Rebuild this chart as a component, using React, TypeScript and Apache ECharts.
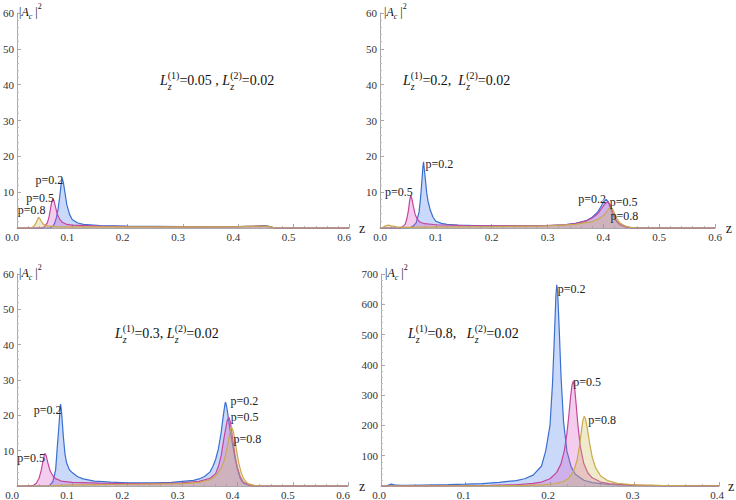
import { useEffect, useRef } from "react";
import * as echarts from "echarts";

type Pt = [number, number];
const SERIF = "Liberation Serif, Times New Roman, serif";
const BLUE = "#3a6fd0";
const MAG = "#c4479c";
const YEL = "#c9a94e";
const BLUE_F = "#4f82ee";
const MAG_F = "#d655c8";
const YEL_F = "#cdb85a";

// ---------- Panel 1 : Lz(1)=0.05, Lz(2)=0.02 ----------
const blue05: Pt[] = [[0,0],[0.06,0],[0.065,0.5],[0.068,1.3],[0.071,2.8],[0.074,5],[0.077,8.5],[0.08,12.5],[0.082,13.7],[0.084,12.5],[0.087,9.5],[0.09,6.5],[0.095,3.8],[0.1,2.3],[0.11,1.4],[0.12,1.0],[0.15,0.7],[0.2,0.5],[0.3,0.4],[0.4,0.4],[0.43,0.5],[0.445,0.7],[0.452,0.6],[0.458,0.3],[0.465,0.05],[0.47,0],[0.6,0]];
const mag05: Pt[] = [[0,0],[0.045,0],[0.05,0.4],[0.055,1.5],[0.058,3.2],[0.061,5.8],[0.063,7.4],[0.065,8.1],[0.067,7.5],[0.07,5.6],[0.073,3.8],[0.077,2.5],[0.082,1.6],[0.09,1.0],[0.1,0.8],[0.15,0.5],[0.2,0.4],[0.3,0.3],[0.4,0.4],[0.44,0.5],[0.455,0.4],[0.465,0.05],[0.47,0],[0.6,0]];
const yel05: Pt[] = [[0,0],[0.025,0],[0.03,0.4],[0.034,1.3],[0.037,2.4],[0.039,3.0],[0.041,2.7],[0.044,1.8],[0.048,1.0],[0.055,0.6],[0.07,0.4],[0.1,0.3],[0.2,0.3],[0.3,0.3],[0.4,0.4],[0.44,0.55],[0.455,0.45],[0.465,0.05],[0.47,0],[0.6,0]];

// ---------- Panel 2 : Lz(1)=0.2 ----------
const blue20: Pt[] = [[0,0],[0.05,0],[0.055,0.2],[0.06,0.6],[0.065,1.5],[0.07,4.5],[0.073,9],[0.075,13],[0.077,17.3],[0.078,18.5],[0.08,15.5],[0.0835,10],[0.086,7.5],[0.09,5],[0.095,3],[0.1,1.9],[0.11,1.3],[0.12,1.0],[0.14,0.8],[0.17,0.7],[0.2,0.6],[0.25,0.6],[0.3,0.7],[0.33,0.9],[0.35,1.3],[0.37,2.1],[0.38,3],[0.39,4.5],[0.395,5.8],[0.4,7.2],[0.405,8.0],[0.409,7.3],[0.413,5.5],[0.418,3.5],[0.423,2],[0.43,0.9],[0.44,0.3],[0.45,0.05],[0.46,0],[0.6,0]];
const mag20: Pt[] = [[0,0],[0.035,0],[0.04,0.3],[0.045,1],[0.048,2.5],[0.051,5],[0.053,7.5],[0.055,9.2],[0.057,8.2],[0.06,5.8],[0.063,3.8],[0.067,2.4],[0.072,1.6],[0.08,1.2],[0.1,0.9],[0.15,0.7],[0.2,0.6],[0.25,0.6],[0.3,0.7],[0.33,0.9],[0.35,1.2],[0.37,2],[0.38,2.8],[0.39,4],[0.397,5.5],[0.403,6.8],[0.408,7.3],[0.412,6.5],[0.416,4.8],[0.42,3],[0.425,1.7],[0.43,0.9],[0.44,0.3],[0.45,0.05],[0.46,0],[0.6,0]];
const yel20: Pt[] = [[0,0],[0.005,0.2],[0.01,0.6],[0.015,0.8],[0.02,0.6],[0.03,0.3],[0.05,0.2],[0.1,0.3],[0.2,0.4],[0.3,0.6],[0.35,1],[0.38,1.8],[0.39,2.4],[0.4,3.4],[0.406,4.5],[0.41,5.4],[0.413,5.8],[0.417,5.2],[0.421,3.8],[0.425,2.5],[0.43,1.4],[0.44,0.5],[0.45,0.15],[0.46,0],[0.6,0]];

// ---------- Panel 3 : Lz(1)=0.3 ----------
const blue30: Pt[] = [[0,0],[0.055,0],[0.06,0.3],[0.065,1.2],[0.07,4.5],[0.073,11],[0.076,17],[0.078,21.5],[0.079,23.2],[0.081,20.5],[0.084,14],[0.087,9],[0.09,6.5],[0.095,4.6],[0.1,3.8],[0.11,2.6],[0.12,2],[0.14,1.4],[0.17,1.1],[0.2,0.9],[0.25,0.9],[0.28,1.0],[0.3,1.3],[0.32,1.6],[0.33,2.0],[0.34,2.7],[0.35,4],[0.355,5.5],[0.36,7.5],[0.365,10.5],[0.37,15],[0.374,20],[0.377,23.2],[0.378,23.7],[0.38,22.5],[0.383,19.5],[0.386,16],[0.39,12.5],[0.395,8],[0.4,4.5],[0.405,2],[0.41,0.8],[0.42,0.2],[0.43,0],[0.6,0]];
const mag30: Pt[] = [[0,0],[0.02,0],[0.03,0.2],[0.035,0.8],[0.04,2.2],[0.044,4.5],[0.047,7],[0.05,9],[0.051,9.2],[0.053,8.5],[0.056,6.5],[0.06,4.3],[0.065,2.9],[0.07,2.1],[0.08,1.4],[0.1,1],[0.15,0.8],[0.2,0.7],[0.25,0.7],[0.3,0.9],[0.33,1.3],[0.35,2.2],[0.36,3.5],[0.365,5.5],[0.37,8.5],[0.374,12.5],[0.378,16],[0.381,18.5],[0.384,19.5],[0.387,18],[0.39,14.5],[0.393,11],[0.397,7],[0.4,5],[0.405,2.5],[0.41,1.2],[0.42,0.3],[0.43,0.05],[0.44,0],[0.6,0]];
const yel30: Pt[] = [[0,0],[0.05,0],[0.1,0.3],[0.2,0.5],[0.3,0.7],[0.33,1],[0.35,1.8],[0.36,2.8],[0.37,5],[0.375,7],[0.38,10],[0.384,13.5],[0.387,16],[0.389,16.7],[0.392,15.5],[0.395,13],[0.398,10],[0.402,6.5],[0.406,4],[0.41,2.3],[0.415,1.2],[0.42,0.6],[0.43,0.2],[0.44,0.05],[0.45,0],[0.6,0]];

// ---------- Panel 4 : Lz(1)=0.8 ----------
const blue80: Pt[] = [[0,0],[0.006,0],[0.009,3],[0.012,6],[0.016,4],[0.02,2.5],[0.03,2],[0.05,3],[0.08,4.5],[0.1,6],[0.12,8],[0.14,12],[0.16,18],[0.17,24],[0.18,36],[0.19,66],[0.195,117],[0.2,200],[0.203,340],[0.205,480],[0.207,630],[0.208,664],[0.209,643],[0.211,512],[0.213,364],[0.216,213],[0.22,115],[0.225,63],[0.23,39],[0.24,19],[0.25,11],[0.27,5],[0.3,2],[0.35,1],[0.4,0.5]];
const mag80: Pt[] = [[0,0],[0.05,0.5],[0.1,1.2],[0.13,2],[0.16,4.2],[0.18,8.4],[0.19,13],[0.2,24],[0.208,45],[0.213,73],[0.217,117],[0.22,173],[0.222,225],[0.224,284],[0.226,333],[0.2275,346],[0.229,329],[0.231,268],[0.233,202],[0.236,128],[0.24,74],[0.245,42],[0.25,27],[0.26,13],[0.27,8],[0.29,3.7],[0.32,1.5],[0.36,0.7],[0.4,0.3]];
const yel80: Pt[] = [[0,0],[0.1,0.5],[0.14,1],[0.17,2],[0.19,3.8],[0.205,7.5],[0.215,14],[0.222,25],[0.228,49],[0.232,85],[0.235,134],[0.237,178],[0.239,218],[0.2405,230],[0.242,222],[0.244,193],[0.247,139],[0.25,95],[0.254,60],[0.26,33],[0.268,18],[0.28,9],[0.3,4],[0.33,1.8],[0.37,0.9],[0.4,0.5]];

const pLabels = ["p=0.2", "p=0.5", "p=0.8"];
const lz1Values = ["0.05 , ", "0.2,  ", "0.3, ", "0.8,   "];
const lz2Value = "0.02";

type Lab = { z: number; text: string; pos: "left" | "right"; off: [number, number] };
type Panel = {
  grid: { left: number; top: number; width: number; height: number };
  xMax: number; yMax: number; yInt: number;
  labelShift: number; nameGap: number;
  data: Pt[][];
  labels: Lab[][];
  anno: [number, number];
};

const panels: Panel[] = [
  {
    grid: { left: 15, top: 13, width: 334, height: 215 }, xMax: 0.6, yMax: 60, yInt: 10,
    labelShift: 5, nameGap: 10,
    data: [blue05, mag05, yel05],
    labels: [
      [{ z: 0.082, text: pLabels[0], pos: "left", off: [1, 1] }],
      [{ z: 0.065, text: pLabels[1], pos: "left", off: [1, -1] }],
      [{ z: 0.039, text: pLabels[2], pos: "left", off: [7, -7] }],
    ],
    anno: [160, 80],
  },
  {
    grid: { left: 380, top: 13, width: 335, height: 215 }, xMax: 0.6, yMax: 60, yInt: 10,
    labelShift: 0, nameGap: 9,
    data: [blue20, mag20, yel20],
    labels: [
      [{ z: 0.078, text: pLabels[0], pos: "right", off: [2, 2] }, { z: 0.405, text: pLabels[0], pos: "left", off: [0, 0] }],
      [{ z: 0.055, text: pLabels[1], pos: "left", off: [2, -3] }, { z: 0.408, text: pLabels[1], pos: "right", off: [2, 0] }],
      [{ z: 0.413, text: pLabels[2], pos: "right", off: [0, 9] }],
    ],
    anno: [403, 80],
  },
  {
    grid: { left: 15, top: 274, width: 333, height: 215 }, xMax: 0.6, yMax: 60, yInt: 10,
    labelShift: 5, nameGap: 11,
    data: [blue30, mag30, yel30],
    labels: [
      [{ z: 0.079, text: pLabels[0], pos: "left", off: [1, 6] }, { z: 0.378, text: pLabels[0], pos: "right", off: [5, -1] }],
      [{ z: 0.051, text: pLabels[1], pos: "left", off: [0, 5] }, { z: 0.384, text: pLabels[1], pos: "right", off: [2, 0] }],
      [{ z: 0.389, text: pLabels[2], pos: "right", off: [2, 12] }],
    ],
    anno: [115, 333],
  },
  {
    grid: { left: 381, top: 274, width: 338, height: 215 }, xMax: 0.4, yMax: 700, yInt: 100,
    labelShift: 2, nameGap: 9,
    data: [blue80, mag80, yel80],
    labels: [
      [{ z: 0.208, text: pLabels[0], pos: "right", off: [1, 4] }],
      [{ z: 0.2275, text: pLabels[1], pos: "right", off: [0, 1] }],
      [{ z: 0.2405, text: pLabels[2], pos: "right", off: [4, 4] }],
    ],
    anno: [408, 333],
  },
];

const lineColors = [BLUE, MAG, YEL];
const fillColors = [BLUE_F, MAG_F, YEL_F];

type Part = { t: string; it?: boolean; small?: boolean; dy?: number; under?: { t: string; it?: boolean; dy: number } };

let ctx: CanvasRenderingContext2D | null = null;
function measure(text: string, font: string): number {
  if (!ctx) ctx = document.createElement("canvas").getContext("2d");
  if (!ctx) return text.length * 6;
  ctx.font = font;
  return ctx.measureText(text).width;
}

function buildText(parts: Part[], x0: number, yc: number, base: number): any[] {
  const els: any[] = [];
  let x = x0;
  for (const p of parts) {
    const fs = p.small ? Math.round(base * 0.68) : base;
    const font = `${p.it ? "italic " : ""}${fs}px ${SERIF}`;
    let w = measure(p.t, font);
    els.push({
      type: "text", x, y: yc + (p.dy || 0), silent: true,
      style: { text: p.t, fontSize: fs, fontFamily: SERIF, fontStyle: p.it ? "italic" : "normal", fill: "#111", align: "left", verticalAlign: "middle" },
    });
    if (p.under) {
      const f2 = `${p.under.it ? "italic " : ""}${fs}px ${SERIF}`;
      w = Math.max(w, measure(p.under.t, f2));
      els.push({
        type: "text", x, y: yc + p.under.dy, silent: true,
        style: { text: p.under.t, fontSize: fs, fontFamily: SERIF, fontStyle: p.under.it ? "italic" : "normal", fill: "#111", align: "left", verticalAlign: "middle" },
      });
    }
    x += w;
  }
  return els;
}

function yAt(data: Pt[], z: number): number {
  const p = data.find((d) => Math.abs(d[0] - z) < 1e-9);
  return p ? p[1] : 0;
}

export default function App() {
  const ref = useRef<HTMLDivElement>(null);
  useEffect(() => {
    if (!ref.current) return;
    const chart = echarts.init(ref.current, undefined, { renderer: "svg" });
    const grids: any[] = [];
    const xAxes: any[] = [];
    const yAxes: any[] = [];
    const series: any[] = [];
    let graphics: any[] = [];
    const axisColor = "#a9a9a9";

    panels.forEach((pn, i) => {
      grids.push({ ...pn.grid, containLabel: false });
      xAxes.push({
        gridIndex: i, type: "value", min: 0, max: pn.xMax, interval: 0.1,
        axisLine: { onZero: true, lineStyle: { color: axisColor, width: 1 } },
        axisTick: { inside: true, length: 4, lineStyle: { color: axisColor } },
        minorTick: { show: true, splitNumber: 5, length: 2, lineStyle: { color: "#bdbdbd" } },
        splitLine: { show: false },
        axisLabel: {
          formatter: (v: number) => v.toFixed(1), fontFamily: SERIF, fontSize: 11, color: "#333", margin: 3,
          padding: [0, pn.labelShift * 2, 0, 0],
          showMaxLabel: true, showMinLabel: true, hideOverlap: false,
        },
        name: "z", nameLocation: "end", nameGap: pn.nameGap,
        nameTextStyle: { fontFamily: SERIF, fontSize: 14, color: "#222", verticalAlign: "middle" },
      });
      yAxes.push({
        gridIndex: i, type: "value", min: 0, max: pn.yMax, interval: pn.yInt,
        axisLine: { onZero: true, lineStyle: { color: axisColor, width: 1 } },
        axisTick: { inside: true, length: 4, lineStyle: { color: axisColor } },
        minorTick: { show: true, splitNumber: 5, length: 2, lineStyle: { color: "#bdbdbd" } },
        splitLine: { show: false },
        axisLabel: { formatter: (v: number) => (v === 0 ? "" : String(v)), fontFamily: SERIF, fontSize: 11, color: "#333", margin: 3, showMaxLabel: true },
      });
      pn.data.forEach((d, k) => {
        series.push({
          type: "line", xAxisIndex: i, yAxisIndex: i, data: d,
          showSymbol: false, symbol: "none", smooth: false, clip: true,
          lineStyle: { color: lineColors[k], width: 1.2 },
          itemStyle: { color: lineColors[k] },
          areaStyle: { color: fillColors[k], opacity: 0.3 },
          z: 2 + k,
          markPoint: {
            symbol: "circle", symbolSize: 0, silent: true,
            data: pn.labels[k].map((l) => ({
              coord: [l.z, yAt(d, l.z)],
              label: {
                show: true, formatter: l.text, position: l.pos, distance: 0, offset: l.off,
                fontFamily: SERIF, fontSize: 12, color: "#222",
              },
            })),
          },
        });
      });
      graphics = graphics.concat(
        buildText(
          [
            { t: "|" },
            { t: "A", it: true },
            { t: "c", it: true, small: true, dy: 4 },
            { t: " |" },
            { t: "2", small: true, dy: -6 },
          ],
          pn.grid.left + 4, pn.grid.top - 1, 12
        )
      );
      graphics = graphics.concat(
        buildText(
          [
            { t: "L", it: true },
            { t: "(1)", small: true, dy: -5, under: { t: "z", it: true, dy: 6 } },
            { t: "=" + lz1Values[i] },
            { t: "L", it: true },
            { t: "(2)", small: true, dy: -5, under: { t: "z", it: true, dy: 6 } },
            { t: "=" + lz2Value },
          ],
          pn.anno[0], pn.anno[1], 14
        )
      );
    });

    chart.setOption({
      animation: false,
      backgroundColor: "#ffffff",
      grid: grids,
      xAxis: xAxes,
      yAxis: yAxes,
      series,
      graphic: graphics,
    });
    return () => chart.dispose();
  }, []);
  return <div ref={ref} style={{ position: "absolute", left: 0, top: 0, width: 736, height: 500 }} />;
}
